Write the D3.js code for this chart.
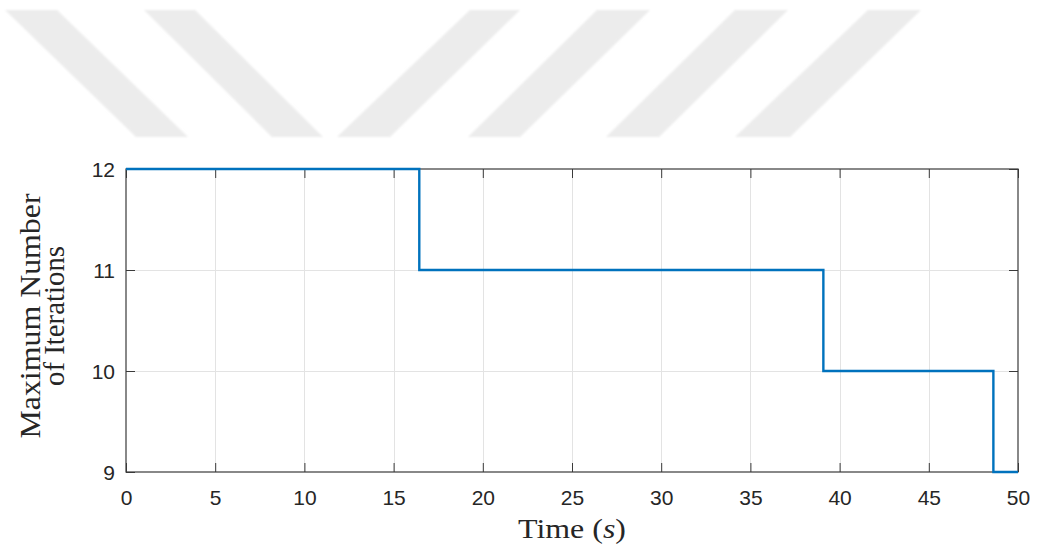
<!DOCTYPE html>
<html>
<head>
<meta charset="utf-8">
<script src="https://cdn.jsdelivr.net/npm/d3@7"></script>
<style>
  html, body { margin: 0; padding: 0; background: #ffffff; }
  svg { display: block; }
</style>
</head>
<body>
<svg id="chart" width="1037" height="552"></svg>
<script>
// Step series: time (s) at which the iteration cap changes, and the cap from that time on
const stepTimes = [0, 16.44, 39.09, 48.62, 50];
const maxIterations = [12, 11, 10, 9, 9];

const xTicks = [0, 5, 10, 15, 20, 25, 30, 35, 40, 45, 50];
const yTicks = [9, 10, 11, 12];

const xLabel = "Time";
const xLabelUnit = "s";
const yLabelLines = ["Maximum Number", "of Iterations"];

// Background ornament: slanted bands (top-left x, top-right x, bottom-left x, bottom-right x)
const bandTop = 10, bandBottom = 137;
const bands = [
  [5, 57, 136, 188],
  [144, 195, 272, 323],
  [470, 520, 337, 390],
  [597, 650, 468, 520],
  [735, 788, 606, 659],
  [868, 921, 735, 790]
];

const svg = d3.select("#chart");
const defs = svg.append("defs");
defs.append("filter").attr("id", "soft")
  .append("feGaussianBlur").attr("stdDeviation", 0.8);

svg.append("g").attr("filter", "url(#soft)")
  .selectAll("polygon").data(bands).join("polygon")
  .attr("points", b => [[b[0], bandTop], [b[1], bandTop], [b[3], bandBottom], [b[2], bandBottom]].map(p => p.join(",")).join(" "))
  .attr("fill", "#ececec");

const plot = { left: 126, right: 1018, top: 169, bottom: 472 };

const x = d3.scaleLinear().domain([0, 50]).range([plot.left, plot.right]);
const y = d3.scaleLinear().domain([9, 12]).range([plot.bottom, plot.top]);

const axisColor = "#3a3a3a";
const textColor = "#262626";
const tickFont = "'Liberation Sans', Arial, Helvetica, sans-serif";
const serif = "'Liberation Serif', 'Times New Roman', serif";

// Grid
const grid = svg.append("g").attr("stroke", "#e3e3e3").attr("stroke-width", 1);
grid.selectAll("line.gx").data(xTicks.slice(1, -1)).join("line")
  .attr("x1", d => Math.round(x(d)) + 0.5).attr("x2", d => Math.round(x(d)) + 0.5)
  .attr("y1", plot.top).attr("y2", plot.bottom);
grid.selectAll("line.gy").data(yTicks.slice(1, -1)).join("line")
  .attr("y1", d => Math.round(y(d)) + 0.5).attr("y2", d => Math.round(y(d)) + 0.5)
  .attr("x1", plot.left).attr("x2", plot.right);

// Axes (box with inward ticks on all four sides)
const tickLen = 9;
function styleAxis(g) {
  g.attr("font-size", null).attr("font-family", null);
  g.select(".domain").remove();
  g.selectAll(".tick line").attr("stroke", axisColor).attr("stroke-width", 1);
  g.selectAll(".tick text").attr("fill", textColor)
    .style("font-family", tickFont).style("font-size", "21px");
}

const xBottom = svg.append("g").attr("transform", `translate(0,${plot.bottom})`)
  .call(d3.axisBottom(x).tickValues(xTicks).tickSizeInner(-tickLen).tickSizeOuter(0).tickPadding(0).tickFormat(d3.format("d")));
styleAxis(xBottom);
xBottom.selectAll(".tick text").attr("y", 33).attr("dy", null);

const xTop = svg.append("g").attr("transform", `translate(0,${plot.top})`)
  .call(d3.axisTop(x).tickValues(xTicks).tickSizeInner(-tickLen).tickSizeOuter(0).tickFormat(""));
styleAxis(xTop);

const yLeft = svg.append("g").attr("transform", `translate(${plot.left},0)`)
  .call(d3.axisLeft(y).tickValues(yTicks).tickSizeInner(-tickLen).tickSizeOuter(0).tickFormat(d3.format("d")));
styleAxis(yLeft);
yLeft.selectAll(".tick text").attr("x", -11).attr("dy", "0.36em");

const yRight = svg.append("g").attr("transform", `translate(${plot.right},0)`)
  .call(d3.axisRight(y).tickValues(yTicks).tickSizeInner(-tickLen).tickSizeOuter(0).tickFormat(""));
styleAxis(yRight);

svg.append("rect")
  .attr("x", plot.left).attr("y", plot.top)
  .attr("width", plot.right - plot.left).attr("height", plot.bottom - plot.top)
  .attr("fill", "none").attr("stroke", axisColor).attr("stroke-width", 1.2);

// Step line
const points = stepTimes.map((t, i) => [t, maxIterations[i]]);
const line = d3.line().x(d => x(d[0])).y(d => y(d[1])).curve(d3.curveStepAfter);
svg.append("path").datum(points)
  .attr("d", line)
  .attr("fill", "none")
  .attr("stroke", "#0072BD")
  .attr("stroke-width", 2.4)
  .attr("stroke-linejoin", "miter");

// Axis titles
const xt = svg.append("text")
  .attr("x", (plot.left + plot.right) / 2).attr("y", 538)
  .attr("text-anchor", "middle")
  .attr("fill", textColor)
  .style("font-family", serif).style("font-size", "28px")
  .attr("textLength", 108).attr("lengthAdjust", "spacingAndGlyphs");
xt.append("tspan").text(xLabel + " (");
xt.append("tspan").style("font-style", "italic").text(xLabelUnit);
xt.append("tspan").text(")");

const yCenter = 316;
const yLineBase = [40, 64];
const yLineLen = [245, 140];
svg.selectAll("text.ylab").data(yLabelLines).join("text")
  .attr("class", "ylab")
  .attr("transform", (d, i) => `translate(${yLineBase[i]},${yCenter}) rotate(-90)`)
  .attr("text-anchor", "middle")
  .attr("fill", textColor)
  .style("font-family", serif).style("font-size", "29px")
  .attr("textLength", (d, i) => yLineLen[i]).attr("lengthAdjust", "spacingAndGlyphs")
  .text(d => d);
</script>
</body>
</html>
